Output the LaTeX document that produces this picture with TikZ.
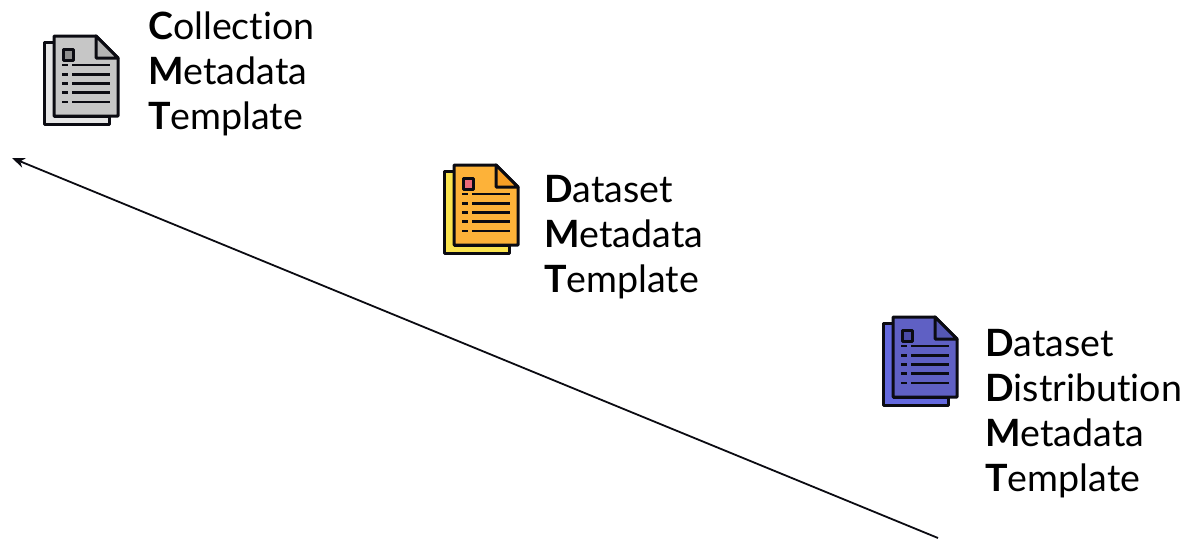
\documentclass[tikz,border=0pt]{standalone}
\usepackage{fontspec}
\setmainfont{Lato}[RawFeature={-liga;-dlig;-clig}]
\usetikzlibrary{arrows.meta}
\definecolor{grayA}{HTML}{C6C6C6}\definecolor{grayB}{HTML}{E6E6E6}\definecolor{grayC}{HTML}{B4B4B4}\definecolor{grayD}{HTML}{8E8E8E}
\definecolor{orA}{HTML}{FDB239}\definecolor{orB}{HTML}{FBE44F}\definecolor{orC}{HTML}{F79F25}\definecolor{orD}{HTML}{EC6A78}
\definecolor{blA}{HTML}{5F60C4}\definecolor{blB}{HTML}{6469DF}\definecolor{blC}{HTML}{5557B4}\definecolor{blD}{HTML}{4A4BA8}
\definecolor{ink}{HTML}{0B0B12}
\tikzset{
  x=1pt,y=-1pt,
  doc/.pic={
    \tikzset{every path/.append style={draw=ink,line width=3pt,line join=round,line cap=round}}
    \path[fill=\colB] (0,6.5) -- (-9.5,6.5) -- (-9.5,88.5) -- (55,88.5) -- (55,80) -- (0,80) -- cycle;
    \path[fill=\colA] (0,0) -- (42,0) -- (64,22) -- (64,80) -- (0,80) -- cycle;
    \path[fill=\colC] (42,0) -- (64,22) -- (42,22) -- cycle;
    \path[fill=\colD,line width=3pt] (9,13.5) rectangle (19,24);
    \foreach \yy in {29,38.3,47.6,56.6,66}{
      \path[line width=2.8pt,line cap=butt] (8,\yy) -- (14,\yy) (18,\yy) -- (56,\yy);
    }
  },
  lab/.style={anchor=north west,align=left,font=\fontsize{37.6}{45}\selectfont,inner sep=0pt},
  conn/.style={-{Stealth[length=13pt,width=10pt]},line width=1.8pt,draw=ink}
}
\begin{document}
\begin{tikzpicture}
\useasboundingbox (0,0) rectangle (1188,538);
\def\colA{grayA}\def\colB{grayB}\def\colC{grayC}\def\colD{grayD}
\pic at (54,36) {doc};
\def\colA{orA}\def\colB{orB}\def\colC{orC}\def\colD{orD}
\pic at (454,165) {doc};
\def\colA{blA}\def\colB{blB}\def\colC{blC}\def\colD{blD}
\pic at (893,317) {doc};
\node[lab] (cmt) at (148,12) {\textbf{C}ollection\\\textbf{M}etadata\\\textbf{T}emplate};
\node[lab] (dmt) at (544,175) {\textbf{D}ataset\\\textbf{M}etadata\\\textbf{T}emplate};
\node[lab] (ddmt) at (985,329) {\textbf{D}ataset\\\textbf{D}istribution\\\textbf{M}etadata\\\textbf{T}emplate};
\coordinate (from) at (938,538);
\coordinate (to) at (12,158);
\draw[conn] (from) -- (to);
\end{tikzpicture}
\end{document}
